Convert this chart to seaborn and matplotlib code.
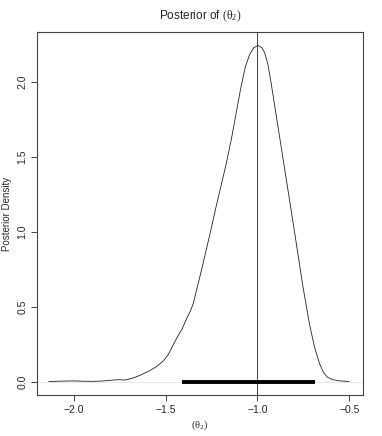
import matplotlib
matplotlib.use("Agg")
import matplotlib.pyplot as plt
import seaborn as sns

# Posterior density curve
theta = [-2.136, -2.05, -2.0, -1.95, -1.90, -1.85, -1.80, -1.76, -1.72, -1.68,
         -1.638, -1.59, -1.548, -1.51, -1.485, -1.46, -1.439, -1.41, -1.385,
         -1.365, -1.349, -1.303, -1.259, -1.222, -1.172, -1.141, -1.114,
         -1.090, -1.065, -1.042, -1.020, -0.997, -0.975, -0.960, -0.942,
         -0.924, -0.897, -0.870, -0.843, -0.816, -0.788, -0.753, -0.716,
         -0.689, -0.662, -0.640, -0.620, -0.590, -0.550, -0.500]
density = [0.0, 0.003, 0.004, 0.002, 0.001, 0.003, 0.008, 0.012, 0.010, 0.022,
           0.042, 0.070, 0.100, 0.140, 0.180, 0.240, 0.290, 0.350, 0.420,
           0.470, 0.520, 0.750, 0.980, 1.180, 1.440, 1.620, 1.800,
           1.960, 2.100, 2.180, 2.225, 2.240, 2.225, 2.190, 2.110,
           1.980, 1.770, 1.560, 1.350, 1.140, 0.920, 0.640, 0.380,
           0.230, 0.120, 0.060, 0.030, 0.012, 0.004, 0.0]
point_est = -1.0
interval = [-1.412, -0.689]
xticks = [-2.0, -1.5, -1.0, -0.5]
yticks = [0.0, 0.5, 1.0, 1.5, 2.0]

sns.set_style("white")
plt.rcParams['font.family'] = ['Liberation Sans', 'DejaVu Sans']
plt.rcParams['mathtext.fontset'] = 'custom'
plt.rcParams['mathtext.rm'] = 'Liberation Serif'
plt.rcParams['mathtext.it'] = 'Liberation Serif'

fig = plt.figure(figsize=(3.82, 4.36), dpi=100)
ax = fig.add_axes([37/382, 1-395/436, (363-37)/382, (395-32)/436])

ax.axhline(0, color='#e8e8e8', lw=0.8, zorder=0)
sns.lineplot(x=theta, y=density, ax=ax, color='#222222', lw=0.6)
ax.axvline(point_est, color='#222222', lw=0.6)
sns.lineplot(x=interval, y=[0, 0], ax=ax, color='black', lw=2.8,
             solid_capstyle='butt')

ax.set_xlim(-2.2, -0.425)
ax.set_ylim(-0.09, 2.33)
ax.set_xticks(xticks)
ax.set_xticklabels(["\u22122.0", "\u22121.5", "\u22121.0", "\u22120.5"])
ax.set_yticks(yticks)
ax.set_yticklabels([f"{v:.1f}" for v in yticks], rotation=90, va='center')

for s in ax.spines.values():
    s.set_visible(True)
    s.set_color('#444444')
    s.set_linewidth(0.8)

ax.tick_params(axis='both', which='both', direction='out', length=4, width=0.7,
               color='#444444', labelsize=7.5, pad=3, bottom=True, left=True)

ax.set_title(r"Posterior of $(\mathrm{\theta_2})$", fontsize=8.5, pad=9)
ax.set_xlabel(r"$(\mathrm{\theta_2})$", fontsize=7.5, labelpad=3)
ax.set_ylabel("Posterior Density", fontsize=7, labelpad=4)

fig.savefig("out.png", dpi=100)
